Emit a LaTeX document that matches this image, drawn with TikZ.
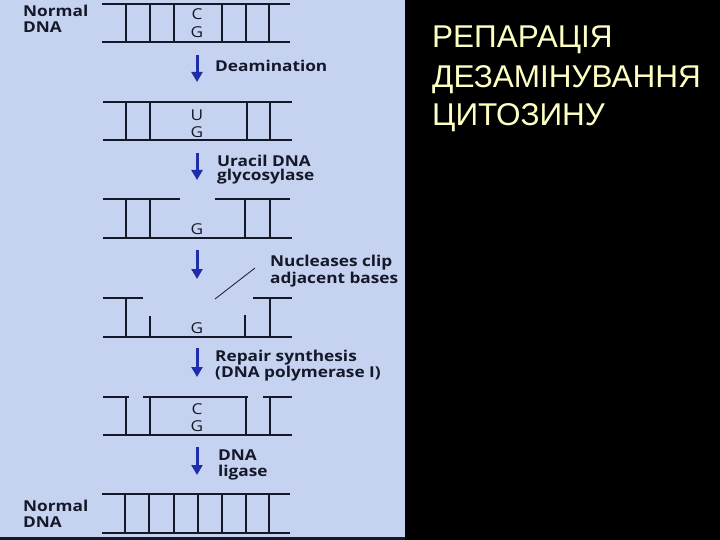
\documentclass[tikz,border=0pt]{standalone}
\usepackage{fontspec}
\setmainfont{Open Sans}
\newfontfamily\lblfont[FakeStretch=1.15]{Open Sans}
\newfontfamily\titlefont{Liberation Sans}
\usetikzlibrary{arrows.meta}
\definecolor{panel}{RGB}{197,211,240}
\definecolor{ink}{RGB}{20,24,40}
\definecolor{arrowblue}{RGB}{30,45,170}
\definecolor{titlecol}{RGB}{255,255,195}
\begin{document}
\begin{tikzpicture}[x=1pt,y=-1pt,
  strand/.style={line width=1.9pt,draw=ink},
  lbl/.style={anchor=base west,inner sep=0pt,text=ink,font=\lblfont\bfseries\fontsize{15}{15}\selectfont},
  basel/.style={anchor=base,inner sep=0pt,text=ink,font=\lblfont\fontsize{15}{15}\selectfont},
  steparrow/.style={draw=arrowblue,line width=3pt,-{Triangle[width=11pt,length=10pt]}},
  ttl/.style={anchor=base west,inner sep=0pt,text=titlecol,font=\titlefont\fontsize{31.5}{31.5}\selectfont}]
\useasboundingbox (0,0) rectangle (720,540);
\fill[black] (0,0) rectangle (720,540);
\fill[panel] (0,0) rectangle (405,537);
\fill[ink] (0,537) rectangle (405,540);

% stage 1
\draw[strand] (102,4) -- (290,4) (102,42) -- (290,42);
\foreach \x in {126,150,174,222,246,269} \draw[strand] (\x,4) -- (\x,42);
% stage 2
\draw[strand] (103,102) -- (292,102) (103,140) -- (292,140);
\foreach \x in {126,150,247,270} \draw[strand] (\x,102) -- (\x,140);
% stage 3
\draw[strand] (103,199) -- (180,199) (215,199) -- (290,199) (103,238) -- (292,238);
\foreach \x in {126,150,245,270} \draw[strand] (\x,199) -- (\x,238);
% stage 4
\draw[strand] (103,298) -- (143,298) (253,298) -- (292,298) (103,337) -- (292,337);
\draw[strand] (126,298) -- (126,337) (270,298) -- (270,337);
\draw[strand] (150,316) -- (150,337) (245,315) -- (245,337);
% stage 5
\draw[strand] (103,397) -- (129,397) (143,397) -- (248,397) (263,397) -- (292,397) (103,435) -- (292,435);
\foreach \x in {126,150,246,270} \draw[strand] (\x,397) -- (\x,435);
% stage 6
\draw[strand] (102,494) -- (290,494) (102,533) -- (290,533);
\foreach \x in {125,149,174,198,222,246,269} \draw[strand] (\x,494) -- (\x,533);

% bases
\node[basel] (c1) at (197,20) {C};
\node[basel] (g1) at (197,38) {G};
\node[basel] (u2) at (197,121) {U};
\node[basel] (g2) at (197,138) {G};
\node[basel] (g3) at (197,235) {G};
\node[basel] (g4) at (197,333) {G};
\node[basel] (c5) at (197,414) {C};
\node[basel] (g5) at (197,431) {G};

% side labels
\node[lbl] (n1a) at (23,17) {Normal};
\node[lbl] (n1b) at (23,33) {DNA};
\node[lbl] (n2a) at (23,511) {Normal};
\node[lbl] (n2b) at (23,527) {DNA};

% step labels
\node[lbl] (s1) at (215,72) {Deamination};
\node[lbl] (s2a) at (217,167) {Uracil DNA};
\node[lbl] (s2b) at (217,181) {glycosylase};
\node[lbl] (s3a) at (270,266) {Nucleases clip};
\node[lbl] (s3b) at (270,283) {adjacent bases};
\node[lbl] (s4a) at (215,361) {Repair synthesis};
\node[lbl] (s4b) at (215,377) {(DNA polymerase I)};
\node[lbl] (s5a) at (218,460) {DNA};
\node[lbl] (s5b) at (218,476) {ligase};

% arrows
\coordinate (a1s) at (197,55);  \coordinate (a1e) at (197,82);
\coordinate (a2s) at (197,153); \coordinate (a2e) at (197,180);
\coordinate (a3s) at (197,250); \coordinate (a3e) at (197,279);
\coordinate (a4s) at (197,348); \coordinate (a4e) at (197,377);
\coordinate (a5s) at (197,447); \coordinate (a5e) at (197,475);
\draw[steparrow] (a1s) -- (a1e);
\draw[steparrow] (a2s) -- (a2e);
\draw[steparrow] (a3s) -- (a3e);
\draw[steparrow] (a4s) -- (a4e);
\draw[steparrow] (a5s) -- (a5e);

% pointer
\coordinate (p1) at (255,268);
\coordinate (p2) at (215,299);
\draw[ink,line width=0.8pt] (p1) -- (p2);

% title
\node[ttl] (t1) at (432,48) {РЕПАРАЦІЯ};
\node[ttl] (t2) at (432,88) {ДЕЗАМІНУВАННЯ};
\node[ttl] (t3) at (432,126) {ЦИТОЗИНУ};
\end{tikzpicture}
\end{document}
